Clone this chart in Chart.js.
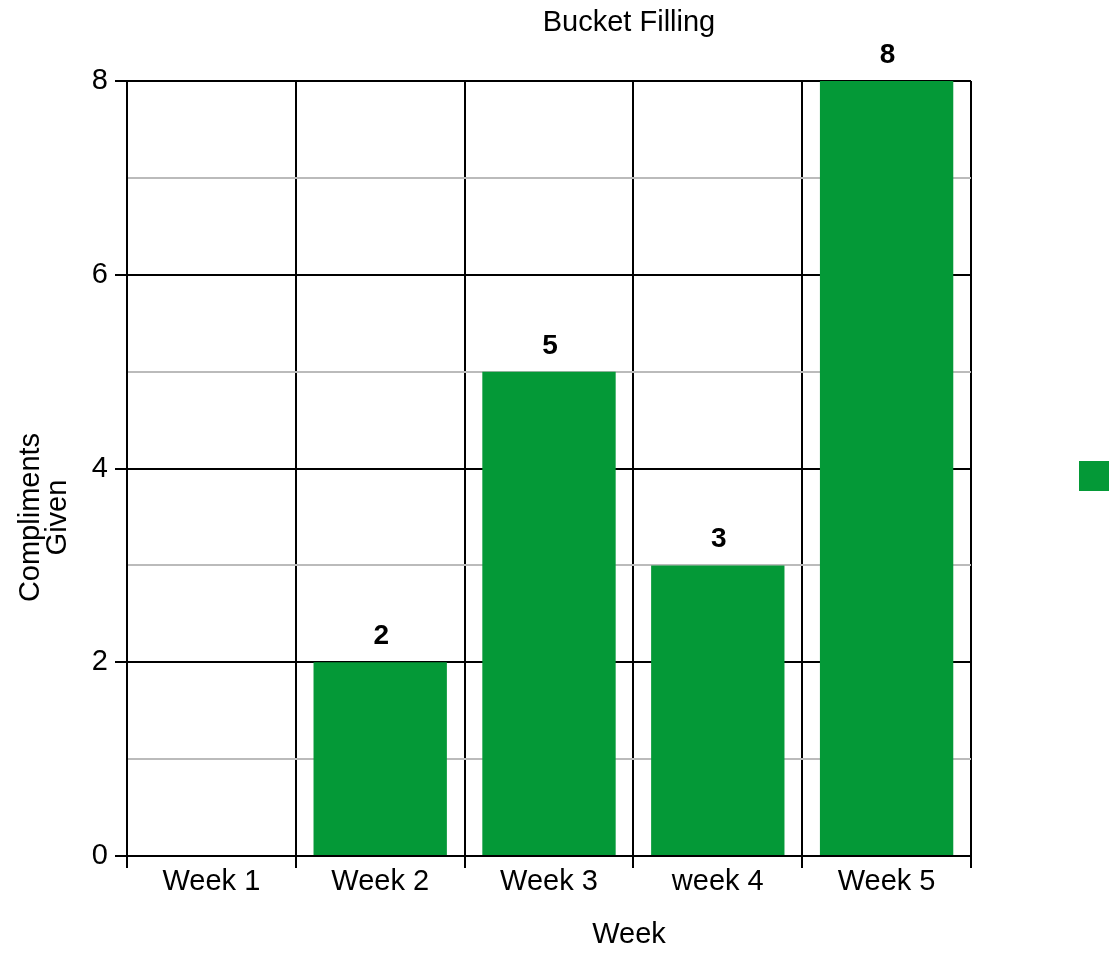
<!DOCTYPE html>
<html>
<head>
<meta charset="utf-8">
<script src="https://cdn.jsdelivr.net/npm/chart.js@4"></script>
<style>
  body { margin: 0; background: #fff; }
  #wrap { width: 1111px; height: 961px; position: relative; }
</style>
</head>
<body>
<div id="wrap"><canvas id="chart"></canvas></div>
<script>
// 数据
const weeks = ['Week 1', 'Week 2', 'Week 3', 'week 4', 'Week 5'];
const compliments = [0, 2, 5, 3, 8];
const chartTitle = 'Bucket Filling';
const xTitle = 'Week';
const yTitle = ['Compliments', 'Given'];

const green = '#049937';
const font = '"Liberation Sans", Arial, Helvetica, sans-serif';

// 标题、数值标签、图例方块
const extras = {
    id: 'extras',
    afterDatasetsDraw(chart) {
        const ctx = chart.ctx;
        const area = chart.chartArea;
        ctx.save();
        ctx.fillStyle = '#000';

        // 柱顶数值
        ctx.font = 'bold 28px ' + font;
        ctx.textAlign = 'center';
        ctx.textBaseline = 'alphabetic';
        const meta = chart.getDatasetMeta(0);
        meta.data.forEach((bar, i) => {
            if (compliments[i] > 0) {
                ctx.fillText(String(compliments[i]), bar.x + 1, bar.y - 18);
            }
        });

        // 标题
        ctx.font = '29px ' + font;
        const cx = (area.left + chart.width) / 2 + 10;
        ctx.fillText(chartTitle, cx, 31);
        ctx.fillText(xTitle, cx, 943);

        // y 轴标题
        ctx.save();
        ctx.translate(31, (area.top + area.bottom) / 2 + 49);
        ctx.rotate(-Math.PI / 2);
        ctx.textBaseline = 'middle';
        yTitle.forEach((line, i) => ctx.fillText(line, 0, i * 27));
        ctx.restore();

        // 图例
        ctx.fillStyle = green;
        ctx.fillRect(1079, 461, 30, 30);
        ctx.restore();
    }
};

const ctx = document.getElementById('chart').getContext('2d');
new Chart(ctx, {
    type: 'bar',
    data: {
        labels: weeks,
        datasets: [{
            label: '',
            data: compliments,
            backgroundColor: green,
            borderWidth: 0,
            barPercentage: 0.79,
            categoryPercentage: 1
        }]
    },
    options: {
        responsive: true,
        maintainAspectRatio: false,
        animation: false,
        layout: { padding: { top: 81, right: 140, left: 0, bottom: 0 } },
        plugins: {
            legend: { display: false },
            title: { display: false },
            tooltip: { enabled: false }
        },
        scales: {
            x: {
                afterFit(scale) { scale.height = 105; },
                grid: {
                    color: '#000',
                    lineWidth: 2,
                    tickLength: 12,
                    offset: true
                },
                border: { color: '#000', width: 2 },
                ticks: {
                    color: '#000',
                    font: { family: font, size: 29 },
                    padding: -3,
                    maxRotation: 0
                }
            },
            y: {
                min: 0,
                max: 8,
                afterFit(scale) { scale.width = 127; },
                grid: {
                    color: c => (c.tick && c.tick.value % 2 === 0) ? '#000' : '#bbbbbb',
                    tickColor: c => (c.tick && c.tick.value % 2 === 0) ? '#000' : 'rgba(0,0,0,0)',
                    lineWidth: 2,
                    tickLength: 12
                },
                border: { color: '#000', width: 2 },
                ticks: {
                    stepSize: 1,
                    color: '#000',
                    padding: 7,
                    font: { family: font, size: 29 },
                    callback: v => (v % 2 === 0 ? String(v) : '')
                }
            }
        }
    },
    plugins: [extras]
});
</script>
</body>
</html>
